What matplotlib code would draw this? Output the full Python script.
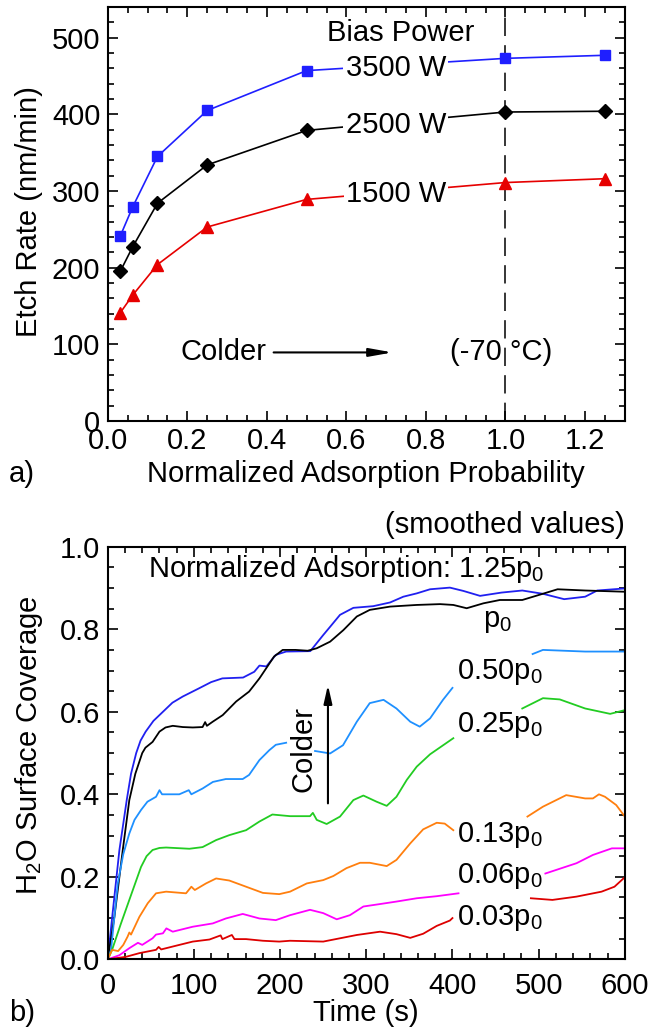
import matplotlib
matplotlib.use('Agg')
import matplotlib.pyplot as plt
import numpy as np
from matplotlib.ticker import MultipleLocator

plt.rcParams['font.family'] = ['Liberation Sans', 'DejaVu Sans']
plt.rcParams['mathtext.fontset'] = 'custom'
plt.rcParams['mathtext.rm'] = 'Liberation Sans'
plt.rcParams['mathtext.it'] = 'Liberation Sans:italic'
plt.rcParams['mathtext.bf'] = 'Liberation Sans:bold'

# ---------------- data: panel a ----------------
adsorption = [0.03125, 0.0625, 0.125, 0.25, 0.5, 1.0, 1.25]
rate_3500 = [241, 279, 345, 405, 457, 473, 477]
rate_2500 = [195, 227, 284, 334, 379, 403, 404]
rate_1500 = [141, 164, 204, 253, 289, 311, 316]
power_labels = ['3500 W', '2500 W', '1500 W']

# ---------------- data: panel b ----------------
nan = np.nan
t_125 = [0, 5, 13.5, 22, 27, 33, 38, 44, 53, 64, 75, 87, 106, 120, 133, 157, 170, 176, 184, 195, 207, 235,
         250, 258, 269.5, 285, 308, 327.6, 343, 358.5, 374, 397, 412.6, 432, 457, 481, 505, 529.6, 554,
         568, 600]
c_125 = [0, 0.10, 0.265, 0.386, 0.45, 0.50, 0.53, 0.552, 0.578, 0.600, 0.622, 0.637, 0.657, 0.672, 0.681,
         0.683, 0.697, 0.712, 0.710, 0.738, 0.746, 0.747, 0.786, 0.806, 0.835, 0.852, 0.856, 0.865, 0.879,
         0.887, 0.897, 0.901, 0.893, 0.881, 0.889, 0.894, 0.886, 0.873, 0.879, 0.894, 0.899]

t_100 = [0, 7.7, 17.4, 25, 32, 40, 43.7, 52, 60, 67, 75.4, 87, 98.6, 110, 113, 115, 121.8, 133.4, 149, 164,
         176, 183.7, 193, 203, 218, 232, 242.5, 258, 273.4, 289, 304, 327.6, 358.5, 385.6, 401, 416.5,
         436, 455, 481, 500, 522, 554, 600]
c_100 = [0, 0.103, 0.265, 0.386, 0.45, 0.50, 0.513, 0.527, 0.552, 0.562, 0.566, 0.563, 0.562, 0.563, 0.575,
         0.566, 0.576, 0.592, 0.625, 0.649, 0.681, 0.705, 0.734, 0.750, 0.750, 0.748, 0.754, 0.770, 0.798,
         0.831, 0.847, 0.855, 0.859, 0.861, 0.859, 0.851, 0.863, 0.871, 0.871, 0.883, 0.897, 0.894, 0.891]

t_050 = [0, 3.8, 11.6, 18, 25, 31, 38.6, 46, 56, 60, 63, 83, 94, 97, 110, 122, 137, 156.6, 164, 176,
         187.5, 195, 207, 224, 240.5, 258, 273, 289, 304, 320, 335, 351, 362, 374, 389, 400, 450, 493,
         505, 554, 600]
c_050 = [0, 0.023, 0.184, 0.255, 0.305, 0.338, 0.362, 0.382, 0.394, 0.410, 0.400, 0.400, 0.410, 0.400,
         0.414, 0.430, 0.437, 0.437, 0.447, 0.483, 0.507, 0.520, 0.525, nan, 0.505, 0.499, 0.519, 0.576,
         0.621, 0.629, 0.608, 0.576, 0.564, 0.584, 0.629, 0.658, nan, 0.740, 0.750, 0.746, 0.746]

t_025 = [0, 5, 15, 25, 38.6, 45, 52, 60, 67.7, 94.7, 110, 125.7, 141, 160.5, 176, 191, 211.5, 234.7, 238,
         242.5, 254, 269.5, 285, 296.6, 312, 323.7, 335, 347, 358.5, 374, 401, 440, 481, 505, 524.5, 554,
         583, 600]
c_025 = [0, 0.023, 0.085, 0.144, 0.224, 0.250, 0.265, 0.270, 0.271, 0.268, 0.272, 0.289, 0.301, 0.313,
         0.334, 0.351, 0.347, 0.347, 0.355, 0.338, 0.328, 0.346, 0.386, 0.397, 0.382, 0.372, 0.394, 0.435,
         0.467, 0.497, 0.536, nan, 0.608, 0.633, 0.630, 0.608, 0.595, 0.604]

t_013 = [0, 5, 12, 18, 23, 25, 27, 36.7, 46.4, 56, 67.7, 90.8, 97, 101, 114, 125.7, 141, 160.5, 180,
         199, 211.5, 231, 250, 261.8, 277, 292.7, 304, 323.7, 335, 351, 366, 381.7, 391, 401, 445, 487,
         505, 532, 554, 563, 570, 577, 590, 600]
c_013 = [0, 0.023, 0.020, 0.035, 0.055, 0.065, 0.060, 0.103, 0.136, 0.160, 0.164, 0.160, 0.176, 0.168,
         0.184, 0.196, 0.191, 0.176, 0.161, 0.158, 0.164, 0.184, 0.192, 0.202, 0.221, 0.234, 0.234,
         0.226, 0.241, 0.281, 0.315, 0.331, 0.329, 0.313, nan, 0.346, 0.370, 0.398, 0.390, 0.390, 0.400,
         0.394, 0.374, 0.346]

t_006 = [0, 13.5, 25, 35, 40, 52, 56, 64, 68, 75.4, 98.6, 121.8, 137, 156.6, 176, 195, 211.5, 234.7,
         250, 265.7, 281, 296.6, 316, 335, 358.5, 381.7, 407, 455, 507.8, 544, 563, 585, 600]
c_006 = [0, 0.010, 0.027, 0.040, 0.035, 0.051, 0.060, 0.063, 0.075, 0.067, 0.079, 0.087, 0.099, 0.110,
         0.099, 0.095, 0.107, 0.120, 0.112, 0.097, 0.107, 0.128, 0.134, 0.140, 0.148, 0.153, 0.160, nan,
         0.208, 0.233, 0.253, 0.269, 0.269]

t_003 = [0, 21, 36.7, 56, 59, 62, 75.4, 98.6, 118, 131, 133, 144, 147, 160.5, 180, 199, 211.5, 250,
         269.5, 289, 316, 335, 351, 366, 381.7, 397, 400, 445, 491, 516, 544, 573, 588, 600]
c_003 = [0, 0.006, 0.015, 0.023, 0.030, 0.024, 0.031, 0.043, 0.048, 0.058, 0.049, 0.059, 0.049, 0.049,
         0.045, 0.043, 0.045, 0.043, 0.051, 0.059, 0.067, 0.061, 0.052, 0.062, 0.081, 0.094, 0.100, nan,
         0.148, 0.144, 0.152, 0.164, 0.176, 0.199]

curve_labels = ['p$_0$', '0.50p$_0$', '0.25p$_0$', '0.13p$_0$', '0.06p$_0$', '0.03p$_0$']

FS = 21

fig = plt.figure(figsize=(6.52, 10.27), dpi=100)
ax1 = fig.add_axes([0.1653, 0.5901, 0.7930, 0.4031])
ax2 = fig.add_axes([0.1653, 0.0659, 0.7930, 0.4017])


def style(ax, xpad):
    for s in ax.spines.values():
        s.set_linewidth(1.5)
    ax.tick_params(which='both', direction='in', top=True, right=True, labelsize=FS, width=1.2)
    ax.tick_params(which='major', length=7.5)
    ax.tick_params(which='minor', length=4.2)
    ax.tick_params(axis='x', pad=xpad)
    ax.tick_params(axis='y', pad=5.4)


# ---------------- panel a ----------------
ax1.plot(adsorption, rate_3500, '-s', color='#1f1fff', lw=1.2, ms=7.7, mec='#1f1fff')
ax1.plot(adsorption, rate_2500, '-D', color='black', lw=1.2, ms=7.0)
ax1.plot(adsorption, rate_1500, '-^', color='#e60000', lw=1.2, ms=8.6)
ax1.axvline(1.0, color='black', lw=1.1, linestyle=(0, (12, 6)), zorder=1)
ax1.set_xlim(0, 1.3)
ax1.set_ylim(0, 540)
ax1.xaxis.set_major_locator(MultipleLocator(0.2))
ax1.xaxis.set_minor_locator(MultipleLocator(0.05))
ax1.yaxis.set_major_locator(MultipleLocator(100))
ax1.yaxis.set_minor_locator(MultipleLocator(20))
ax1.set_xticklabels([f'{v:.1f}' for v in ax1.get_xticks()])
style(ax1, 4)

wbox = dict(facecolor='white', edgecolor='none', pad=1.5)
ax1.text(0.737, 495, 'Bias Power', fontsize=FS, ha='center', va='baseline')
for lab, yb in zip(power_labels, [450, 376, 285]):
    ax1.text(0.724, yb, lab, fontsize=FS, ha='center', va='baseline', bbox=wbox, zorder=5)
ax1.text(0.291, 79.4, 'Colder', fontsize=FS, ha='center', va='baseline')
ax1.annotate('', xy=(0.716, 89.4), xytext=(0.417, 89.4),
             arrowprops=dict(arrowstyle='-|>,head_length=1.4,head_width=0.25', color='black',
                             lw=1.5, shrinkA=0, shrinkB=0, mutation_scale=10))
ax1.text(0.99, 79.4, '(-70 °C)', fontsize=FS, ha='center', va='baseline')

# ---------------- panel b ----------------
lw2 = 1.3
ax2.plot(t_125, c_125, color='#2020f0', lw=lw2)
ax2.plot(t_100, c_100, color='black', lw=lw2)
ax2.plot(t_050, c_050, color='#1e90ff', lw=lw2)
ax2.plot(t_025, c_025, color='#22cc22', lw=lw2)
ax2.plot(t_013, c_013, color='#ff7f0e', lw=lw2)
ax2.plot(t_006, c_006, color='#ff00ff', lw=lw2)
ax2.plot(t_003, c_003, color='#dd0000', lw=lw2)
ax2.set_xlim(0, 600)
ax2.set_ylim(0, 1.0)
ax2.xaxis.set_major_locator(MultipleLocator(100))
ax2.xaxis.set_minor_locator(MultipleLocator(20))
ax2.yaxis.set_major_locator(MultipleLocator(0.2))
ax2.yaxis.set_minor_locator(MultipleLocator(0.05))
ax2.set_yticklabels([f'{v:.1f}' for v in ax2.get_yticks()])
style(ax2, 9)

ax2.text(47, 0.9275, 'Normalized Adsorption: 1.25p$_0$', fontsize=FS, ha='left', va='baseline')
ax2.text(436, 0.806, curve_labels[0], fontsize=FS, ha='left', va='baseline')
for lab, yb in zip(curve_labels[1:], [0.680, 0.552, 0.285, 0.184, 0.083]):
    ax2.text(405, yb, lab, fontsize=FS, ha='left', va='baseline')
ax2.text(1.0, 1.033, '(smoothed values)', fontsize=FS, ha='right', va='baseline',
         transform=ax2.transAxes)
ax2.text(226.6, 0.510, 'Colder', fontsize=FS, ha='center', va='center', rotation=90)
ax2.annotate('', xy=(255.5, 0.665), xytext=(255.5, 0.378),
             arrowprops=dict(arrowstyle='-|>,head_length=1.1,head_width=0.25', color='black',
                             lw=1.5, shrinkA=0, shrinkB=0, mutation_scale=10))

# ---------------- figure texts ----------------
fig.text(0.5618, 0.5310, 'Normalized Adsorption Probability', fontsize=FS, ha='center', va='baseline')
fig.text(0.0337, 0.5310, 'a)', fontsize=FS, ha='center', va='baseline')
fig.text(0.5618, 0.0061, 'Time (s)', fontsize=FS, ha='center', va='baseline')
fig.text(0.0337, 0.0061, 'b)', fontsize=FS, ha='center', va='baseline')
fig.text(0.0445, 0.7936, 'Etch Rate (nm/min)', fontsize=FS, ha='center', va='center', rotation=90)
fig.text(0.0445, 0.2746, 'H$_2$O Surface Coverage', fontsize=FS, ha='center', va='center', rotation=90)

fig.savefig('out.png', dpi=100)
